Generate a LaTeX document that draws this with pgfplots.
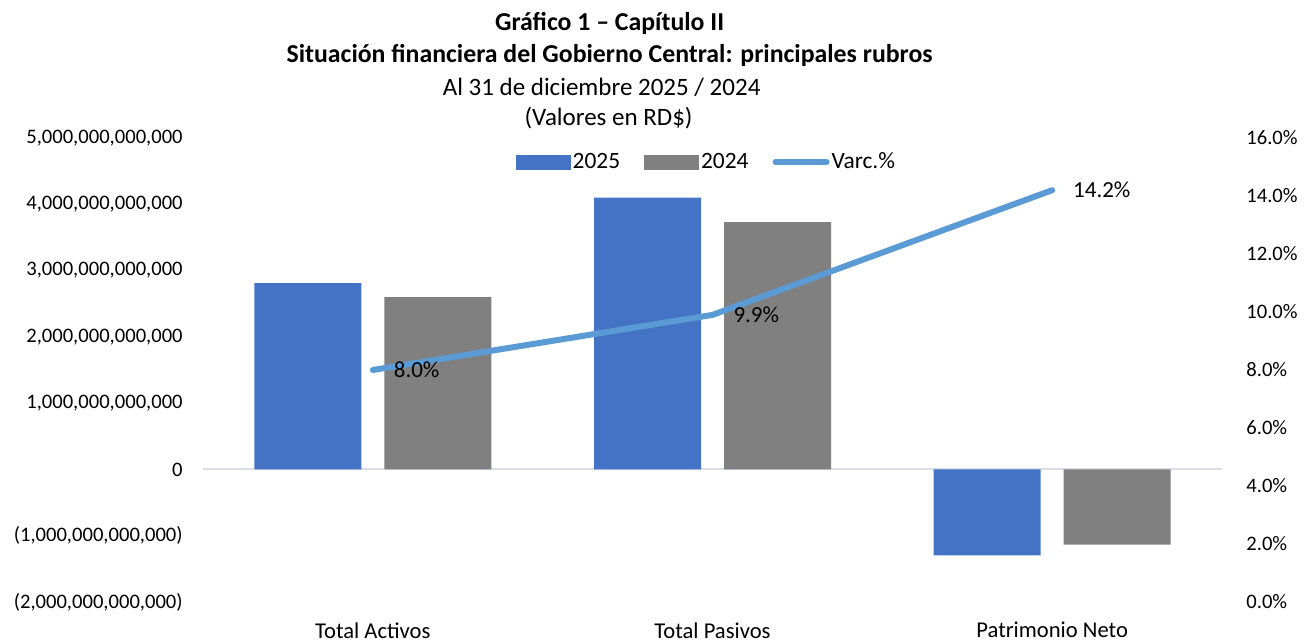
\documentclass[border=0pt]{standalone}
\usepackage{pgfplots}
\pgfplotsset{compat=1.18}
\usepackage{fontspec}
\setmainfont{Carlito}
\definecolor{cA}{HTML}{4472C4}
\definecolor{cB}{HTML}{808080}
\definecolor{cL}{HTML}{5B9BD5}
\definecolor{zl}{HTML}{D9DEE6}
\begin{document}
\begin{tikzpicture}
\useasboundingbox (0,0) rectangle (652.5pt,320.5pt);
\node[anchor=base, font=\fontsize{12.9}{14}\selectfont\bfseries] at (304.8pt,305.2pt) {Gráfico 1 – Capítulo II};
\node[anchor=base, font=\fontsize{12.9}{14}\selectfont\bfseries] at (304.8pt,289pt) {Situación financiera del Gobierno Central: principales rubros};
\node[anchor=base, font=\fontsize{12.5}{14}\selectfont] at (300.8pt,272.5pt) {Al 31 de diciembre 2025 / 2024};
\node[anchor=base, font=\fontsize{12.5}{14}\selectfont] at (304.3pt,257.5pt) {(Valores en RD\$)};
\begin{axis}[
  at={(101.5pt,19.5pt)}, anchor=south west, scale only axis,
  width=509.5pt, height=232pt,
  xmin=-0.5, xmax=2.5, ymin=-2e12, ymax=5e12,
  scaled y ticks=false,
  axis line style={draw=none}, major tick length=0pt,
  xtick={0,1,2}, xticklabels={Total Activos,Total Pasivos,Patrimonio Neto},
  xticklabel style={font=\fontsize{11.3}{13}\selectfont, inner sep=0pt, anchor=north, yshift=-10pt},
  ytick={-2e12,-1e12,0,1e12,2e12,3e12,4e12,5e12},
  yticklabels={{(2,000,000,000,000)},{(1,000,000,000,000)},0,{1,000,000,000,000},{2,000,000,000,000},{3,000,000,000,000},{4,000,000,000,000},{5,000,000,000,000}},
  yticklabel style={font=\fontsize{10.3}{12}\selectfont, inner sep=0pt, anchor=east, xshift=-10pt},
  extra y ticks={0}, extra y tick labels={},
  extra y tick style={grid=major, major grid style={zl, line width=1pt}},
  legend style={at={(0.494,0.948)}, anchor=center, draw=none, fill=none,
    font=\fontsize{11.7}{13}\selectfont,
    /tikz/every even column/.append style={column sep=11pt},
    nodes={inner sep=1pt}},
  legend columns=3,
]
\addplot[ybar, bar width=53.5pt, bar shift=-32.5pt, fill=cA, draw=none,
  legend image code/.code={\fill[cA] (0pt,-3.75pt) rectangle (27.5pt,3.75pt);}]
  coordinates {(0,2810000000000) (1,4100000000000) (2,-1295000000000)};
\addlegendentry{2025}
\addplot[ybar, bar width=53.5pt, bar shift=32.5pt, fill=cB, draw=none,
  legend image code/.code={\fill[cB] (0pt,-3.75pt) rectangle (27.5pt,3.75pt);}]
  coordinates {(0,2600000000000) (1,3730000000000) (2,-1135000000000)};
\addlegendentry{2024}
\addlegendimage{legend image code/.code={\draw[cL, line width=3pt, line cap=round] (1pt,0pt) -- (26.5pt,0pt);}}
\addlegendentry{Varc.\%}
\end{axis}
\begin{axis}[
  at={(101.5pt,19.5pt)}, anchor=south west, scale only axis,
  width=509.5pt, height=232pt,
  xmin=-0.5, xmax=2.5, ymin=0, ymax=16,
  hide x axis, axis y line*=right, axis line style={draw=none}, major tick length=0pt,
  ytick={0,2,4,6,8,10,12,14,16},
  yticklabels={0.0\%,2.0\%,4.0\%,6.0\%,8.0\%,10.0\%,12.0\%,14.0\%,16.0\%},
  yticklabel style={font=\fontsize{10.3}{12}\selectfont, inner sep=0pt, anchor=west, xshift=12pt},
  /pgf/number format/assume math mode=true,
]
\addplot[cL, line width=3pt, line cap=round, line join=round,
  nodes near coords={\pgfmathprintnumber[fixed,fixed zerofill,precision=1]{\pgfplotspointmeta}\%},
  nodes near coords style={text=black, anchor=west, xshift=9pt, inner sep=0pt, font=\fontsize{11.5}{13}\selectfont}]
  coordinates {(0,8.0) (1,9.9) (2,14.2)};
\end{axis}
\end{tikzpicture}
\end{document}
